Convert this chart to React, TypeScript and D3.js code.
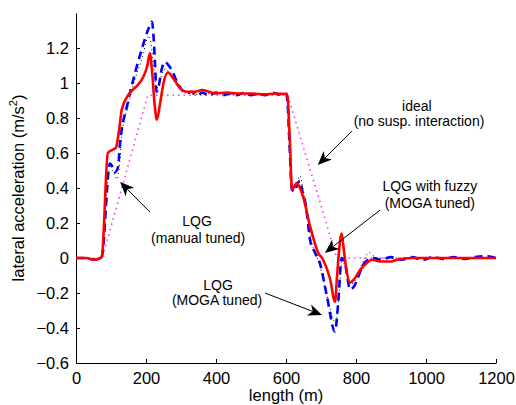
import { select, scaleLinear, line, curveMonotoneX, curveLinear, axisBottom, axisLeft } from "d3";
import React, { useEffect, useRef } from "react";

// x in metres, y in m/s^2
const idealSeries: [number, number][] = [
    [0, 0], [75, 0], [205, 0.93], [605, 0.93], [745, 0], [1200, 0],
];

const manualLqg: [number, number][] = [
    [0, 0], [50, -0.005], [70, 0], [74, 0.01], [95, 0.5], [105, 0.5], [117, 0.45], [125, 0.55],
    [130, 0.68], [150, 0.88], [170, 1.03], [190, 1.15], [208, 1.27], [216, 1.2], [224, 1.05],
    [230, 0.97], [238, 1.0], [247, 1.06], [256, 1.08], [270, 1.04], [290, 0.98], [310, 0.945],
    [350, 0.935], [400, 0.94], [450, 0.935], [500, 0.94], [550, 0.935], [600, 0.94], [605, 0.88],
    [612, 0.6], [620, 0.4], [630, 0.42], [640, 0.47], [648, 0.4], [658, 0.3], [670, 0.12],
    [690, 0.0], [710, -0.15], [725, -0.28], [742, -0.37], [752, -0.2], [760, -0.02], [770, -0.05],
    [783, -0.15], [800, -0.12], [820, -0.02], [838, 0.03], [860, 0.0], [1200, 0],
];

const mogaLqg: [number, number][] = [
    [0, 0], [30, 0], [50, -0.01], [70, 0], [74, 0.01], [97, 0.54], [104, 0.52], [111, 0.49],
    [120, 0.52], [126, 0.66], [146, 0.87], [169, 1.06], [189, 1.2], [205, 1.3], [217, 1.35],
    [222, 1.25], [226, 1.1], [230, 0.95], [236, 0.98], [245, 1.08], [254, 1.12], [265, 1.1],
    [277, 1.06], [290, 1.0], [303, 0.96], [315, 0.94], [330, 0.95], [345, 0.93], [360, 0.945],
    [380, 0.93], [400, 0.945], [420, 0.93], [440, 0.94], [460, 0.93], [480, 0.945], [500, 0.93],
    [520, 0.94], [540, 0.93], [560, 0.945], [580, 0.935], [600, 0.94], [604, 0.9], [610, 0.65],
    [617, 0.39], [625, 0.38], [632, 0.42], [640, 0.44], [647, 0.38], [654, 0.33], [663, 0.2],
    [669, 0.1], [683, 0.03], [697, -0.03], [717, -0.22], [740, -0.42], [749, -0.26], [759, 0.0],
    [764, -0.01], [769, -0.03], [776, -0.12], [783, -0.18], [795, -0.16], [806, -0.11],
    [820, -0.04], [834, -0.01], [850, 0.0], [870, -0.01], [900, 0.005], [930, -0.01],
    [960, 0.005], [990, -0.01], [1020, 0.005], [1050, -0.005], [1080, 0.005], [1110, -0.005],
    [1140, 0.005], [1170, 0.01], [1200, 0],
];

const fuzzyLqg: [number, number][] = [
    [0, 0], [30, 0], [50, -0.01], [70, 0], [74, 0.01], [91, 0.6], [106, 0.62], [114, 0.63],
    [123, 0.73], [131, 0.85], [149, 0.93], [177, 0.99], [191, 1.03], [204, 1.1], [211, 1.17],
    [218, 1.05], [225, 0.87], [231, 0.79], [240, 0.88], [250, 1.0], [263, 1.06], [280, 1.02],
    [303, 0.96], [320, 0.95], [340, 0.95], [360, 0.96], [380, 0.95], [400, 0.94], [430, 0.945],
    [460, 0.94], [500, 0.94], [540, 0.935], [570, 0.94], [603, 0.937], [611, 0.67], [617, 0.39],
    [624, 0.41], [631, 0.43], [640, 0.4], [649, 0.35], [669, 0.18], [692, 0.03], [706, -0.01],
    [726, -0.12], [740, -0.25], [746, -0.1], [752, 0.05], [759, 0.14], [765, 0.05], [772, -0.06],
    [783, -0.14], [795, -0.12], [811, -0.07], [830, -0.03], [845, -0.01], [869, -0.02],
    [900, -0.02], [917, -0.01], [960, 0], [1000, 0], [1100, 0], [1200, 0],
];

const xTicks = [0, 200, 400, 600, 800, 1000, 1200];
const yTicks = [-0.6, -0.4, -0.2, 0, 0.2, 0.4, 0.6, 0.8, 1, 1.2];

// annotation text lines [x, y, text] and arrows [fromX, fromY, toX, toY], in data units
const notes: [number, number, string][] = [
    [974, 0.863, "ideal"],
    [980, 0.777, "(no susp. interaction)"],
    [1011, 0.406, "LQG with fuzzy"],
    [1011, 0.309, "(MOGA tuned)"],
    [346, 0.206, "LQG"],
    [349, 0.109, "(manual tuned)"],
    [406, -0.16, "LQG"],
    [403, -0.246, "(MOGA tuned)"],
];
const arrows: [number, number, number, number][] = [
    [789, 0.726, 691, 0.531],
    [869, 0.274, 711, 0.029],
    [211, 0.263, 126, 0.434],
    [540, -0.2, 703, -0.326],
];

const font = "'Liberation Sans', Arial, Helvetica, sans-serif";

export default function App() {
    const svgRef = useRef<SVGSVGElement>(null);

    useEffect(() => {
        const svg = select(svgRef.current);
        svg.selectAll("*").remove();

        const x = scaleLinear().domain([0, 1200]).range([76, 496]);
        const y = scaleLinear().domain([-0.6, 1.4]).range([363, 13]);

        // axes, MATLAB style: ticks pointing inward, no box
        const xAxis = axisBottom(x)
            .tickValues(xTicks)
            .tickSizeInner(-4)
            .tickSizeOuter(0)
            .tickPadding(9)
            .tickFormat((d) => String(d));
        const gx = svg.append("g").attr("transform", `translate(0,${y(-0.6)})`).call(xAxis);
        const yAxis = axisLeft(y)
            .tickValues(yTicks)
            .tickSizeInner(-4)
            .tickSizeOuter(0)
            .tickPadding(7)
            .tickFormat((d) => String(d).replace("-", "\u2212"));
        const gy = svg.append("g").attr("transform", `translate(${x(0)},0)`).call(yAxis);
        [gx, gy].forEach((g) => {
            g.select(".domain").attr("stroke", "#000").attr("stroke-width", 1);
            g.selectAll(".tick line").attr("stroke", "#000");
            g.selectAll(".tick text").attr("fill", "#000").attr("font-size", 16.5).attr("font-family", font);
        });

        svg.append("text")
            .attr("x", x(600))
            .attr("y", 401)
            .attr("text-anchor", "middle")
            .attr("font-size", 16.5)
            .attr("font-family", font)
            .text("length (m)");

        const ylab = svg.append("text")
            .attr("transform", `translate(24,${y(0.4)}) rotate(-90)`)
            .attr("text-anchor", "middle")
            .attr("font-size", 16.5)
            .attr("font-family", font);
        ylab.append("tspan").text("lateral acceleration (m/s");
        ylab.append("tspan").attr("font-size", 11).attr("dy", -7).text("2");
        ylab.append("tspan").attr("dy", 7).text(")");

        const lineGen = line<[number, number]>()
            .x((d) => x(d[0]))
            .y((d) => y(d[1]))
            .curve(curveMonotoneX);

        svg.append("path")
            .attr("d", lineGen.curve(curveLinear)(idealSeries))
            .attr("fill", "none")
            .attr("stroke", "#ff33ff")
            .attr("stroke-width", 1.6)
            .attr("stroke-dasharray", "1.5,4");
        lineGen.curve(curveMonotoneX);
        svg.append("path")
            .attr("d", lineGen(mogaLqg))
            .attr("fill", "none")
            .attr("stroke", "#0000ff")
            .attr("stroke-width", 2.6)
            .attr("stroke-dasharray", "8,5");
        svg.append("path")
            .attr("d", lineGen(manualLqg))
            .attr("fill", "none")
            .attr("stroke", "#000")
            .attr("stroke-width", 1)
            .attr("stroke-dasharray", "1,3");
        svg.append("path")
            .attr("d", lineGen(fuzzyLqg))
            .attr("fill", "none")
            .attr("stroke", "#ff0000")
            .attr("stroke-width", 2.6);

        // annotations
        svg.selectAll(".note")
            .data(notes)
            .join("text")
            .attr("class", "note")
            .attr("x", (d) => x(d[0]))
            .attr("y", (d) => y(d[1]))
            .attr("text-anchor", "middle")
            .attr("dominant-baseline", "middle")
            .attr("font-size", 14)
            .attr("font-family", font)
            .text((d) => d[2]);

        arrows.forEach(([x0, y0, x1, y1]) => {
            const ax = x(x0), ay = y(y0), bx = x(x1), by = y(y1);
            const ang = Math.atan2(by - ay, bx - ax);
            const len = 14, half = 6, back = 10;
            const ux = Math.cos(ang), uy = Math.sin(ang);
            const px = -uy, py = ux;
            svg.append("line")
                .attr("x1", ax).attr("y1", ay)
                .attr("x2", bx - ux * back).attr("y2", by - uy * back)
                .attr("stroke", "#000").attr("stroke-width", 1);
            const p = [
                [bx, by],
                [bx - ux * len + px * half, by - uy * len + py * half],
                [bx - ux * back, by - uy * back],
                [bx - ux * len - px * half, by - uy * len - py * half],
            ];
            svg.append("path")
                .attr("d", "M" + p.map((q) => q.join(",")).join("L") + "Z")
                .attr("fill", "#000");
        });
    }, []);

    return (
        <svg
            ref={svgRef}
            width={516}
            height={405}
            style={{ position: "absolute", left: 0, top: 0, background: "#fff" }}
        />
    );
}
